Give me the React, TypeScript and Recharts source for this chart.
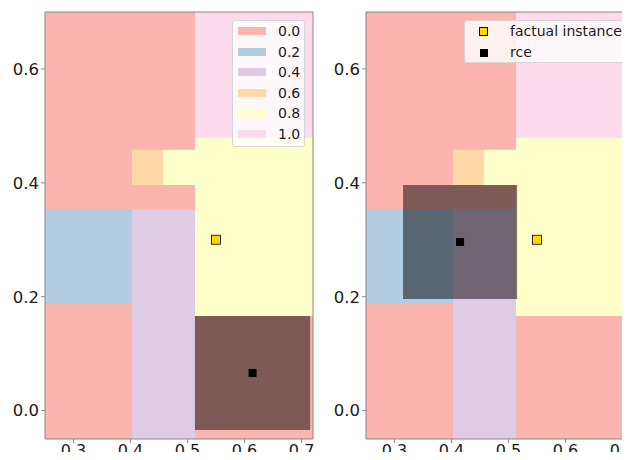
import React from 'react';
import { ComposedChart, XAxis, YAxis, ReferenceArea, Scatter, Legend } from 'recharts';

const xDomain: [number, number] = [0.25, 0.72];
const yDomain: [number, number] = [-0.05, 0.7];
const xTicks = [0.3, 0.4, 0.5, 0.6, 0.7];
const yTicks = [0.0, 0.2, 0.4, 0.6];

const classLabels = ['0.0', '0.2', '0.4', '0.6', '0.8', '1.0'];
const classColors = ['#fbb4ae', '#b3cde3', '#decbe4', '#fed9a6', '#ffffcc', '#fddaec'];

// decision regions: [x1, x2, y1, y2, classIndex]; class 0.0 fills the background
const regions: [number, number, number, number, number][] = [
  [0.25, 0.72, -0.05, 0.7, 0],
  [0.4026, 0.457, 0.396, 0.458, 3],
  [0.457, 0.513, 0.396, 0.458, 4],
  [0.25, 0.4026, 0.187, 0.3535, 1],
  [0.4026, 0.513, -0.05, 0.3535, 2],
  [0.513, 0.72, 0.48, 0.7, 5],
  [0.513, 0.72, 0.166, 0.48, 4],
];

const factualPoint = [{ x: 0.55, y: 0.3 }];
const rceLeft = [{ x: 0.614, y: 0.066 }];
const rceRight = [{ x: 0.415, y: 0.296 }];
const boxLeft = { x1: 0.513, x2: 0.715, y1: -0.034, y2: 0.166 };
const boxRight = { x1: 0.315, x2: 0.515, y1: 0.196, y2: 0.396 };

const legendLabelsRight = ['factual instance', 'rce'];

const FONT = '"DejaVu Sans", sans-serif';
const W = 321;
const H = 460;

const fmt = (v: number) => v.toFixed(1);

const FactualShape = (props: any) => (
  <rect x={props.cx - 4.5} y={props.cy - 4.5} width={9} height={9} fill="#FFD700" stroke="#000" strokeWidth={0.8} />
);
const RceShape = (props: any) => (
  <rect x={props.cx - 4} y={props.cy - 4} width={8} height={8} fill="#000" />
);

const legendBox: React.CSSProperties = {
  position: 'relative',
  background: 'rgba(255,255,255,0.8)',
  border: '1px solid #d6d6d6',
  borderRadius: 3,
  boxSizing: 'border-box',
  fontFamily: FONT,
  fontSize: 14,
  color: '#1a1a1a',
};

const LeftLegend = () => (
  <div style={{ ...legendBox, width: 73, height: 127 }}>
    {classLabels.map((lab, i) => (
      <div key={lab}>
        <div style={{ position: 'absolute', left: 5, top: 6 + i * 20.6, width: 28, height: 8, background: classColors[i] }} />
        <div style={{ position: 'absolute', left: 45, top: 2 + i * 20.6, lineHeight: '17px' }}>{lab}</div>
      </div>
    ))}
  </div>
);

const RightLegend = () => (
  <div style={{ ...legendBox, width: 162, height: 43 }}>
    <div style={{ position: 'absolute', left: 14, top: 6, width: 9, height: 9, background: '#FFD700', border: '0.8px solid #000', boxSizing: 'border-box' }} />
    <div style={{ position: 'absolute', left: 45, top: 2, lineHeight: '17px' }}>{legendLabelsRight[0]}</div>
    <div style={{ position: 'absolute', left: 15, top: 28, width: 8, height: 8, background: '#000' }} />
    <div style={{ position: 'absolute', left: 45, top: 23, lineHeight: '17px' }}>{legendLabelsRight[1]}</div>
  </div>
);

const Panel = ({ rce, box, legend, legendPos }: any) => (
  <ComposedChart width={W} height={H} margin={{ top: 12, right: 8, bottom: 0, left: 0 }}>
    <XAxis
      type="number"
      dataKey="x"
      domain={xDomain}
      ticks={xTicks}
      tickFormatter={fmt}
      allowDataOverflow
      axisLine={false}
      tickSize={4}
      tickMargin={1.5}
      height={21}
      tickLine={{ stroke: '#888' }}
      tick={{ fill: '#1a1a1a', fontSize: 16, fontFamily: FONT }}
    />
    <YAxis
      type="number"
      dataKey="y"
      domain={yDomain}
      ticks={yTicks}
      tickFormatter={fmt}
      allowDataOverflow
      axisLine={false}
      tickSize={4}
      tickMargin={2}
      width={45}
      tickLine={{ stroke: '#888' }}
      tick={{ fill: '#1a1a1a', fontSize: 16.5, fontFamily: FONT }}
    />
    {regions.map((r, i) => (
      <ReferenceArea key={i} x1={r[0]} x2={r[1]} y1={r[2]} y2={r[3]} fill={classColors[r[4]]} fillOpacity={1} stroke="none" ifOverflow="visible" />
    ))}
    <ReferenceArea x1={box.x1} x2={box.x2} y1={box.y1} y2={box.y2} fill="#000" fillOpacity={0.5} stroke="none" ifOverflow="visible" />
    <ReferenceArea x1={xDomain[0]} x2={xDomain[1]} y1={yDomain[0]} y2={yDomain[1]} fill="none" stroke="#888" strokeWidth={1} ifOverflow="visible" />
    <Scatter data={factualPoint} shape={FactualShape} isAnimationActive={false} />
    <Scatter data={rce} shape={RceShape} isAnimationActive={false} />
    <Legend
      layout="horizontal"
      verticalAlign="middle"
      align="center"
      content={legend}
      wrapperStyle={{ position: 'absolute', top: legendPos.top, left: legendPos.left, width: 'auto', height: 'auto' }}
    />
  </ComposedChart>
);

export default function App() {
  return (
    <div style={{ margin: -8, width: 630, height: 460, overflow: 'hidden', display: 'flex', background: '#fff' }}>
      <div style={{ flexShrink: 0, width: W }}>
        <Panel rce={rceLeft} box={boxLeft} legend={LeftLegend} legendPos={{ top: 20, left: 232 }} />
      </div>
      <div style={{ flexShrink: 0, width: W }}>
        <Panel rce={rceRight} box={boxRight} legend={RightLegend} legendPos={{ top: 20, left: 143 }} />
      </div>
    </div>
  );
}
